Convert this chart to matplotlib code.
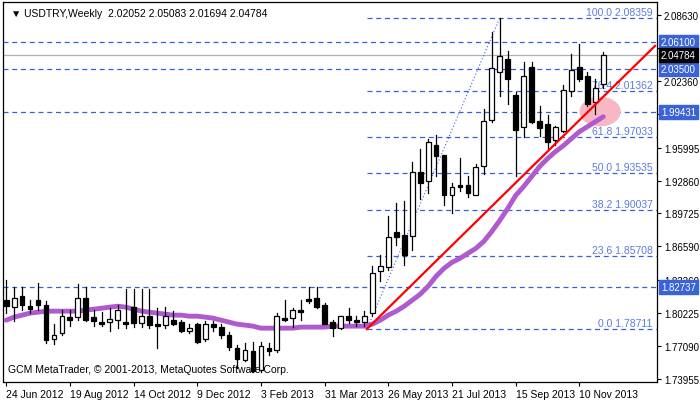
import matplotlib
matplotlib.use("Agg")
import matplotlib.pyplot as plt
from matplotlib.patches import Rectangle, Ellipse

plt.rcParams['font.family'] = ['Liberation Sans', 'DejaVu Sans']

opens = [1.8146,1.8080,1.8184,1.8089,1.8146,1.8099,1.7776,1.7833,1.7985,1.7985,1.8165,1.7985,1.7937,1.7937,1.7956,1.7937,1.8080,1.7928,1.7994,1.7918,
         1.7909,1.7956,1.7937,1.7852,1.7918,1.7776,1.7918,1.7890,1.7814,1.7690,1.7576,1.7662,1.7481,1.7690,1.7671,1.7975,1.7975,1.8051,1.8155,1.8165,
         1.8099,1.7937,1.7880,1.7994,1.7956,1.7937,1.8023,1.8422,1.8460,1.8792,1.8764,1.8754,1.9372,1.9286,1.9628,1.9533,1.9153,1.9248,1.9248,1.9153,
         1.9429,1.9866,2.0322,2.0445,2.0103,1.9799,2.0369,1.9856,1.9828,1.9676,1.9761,2.0141,2.0369,2.0284,2.0037,2.02052]
highs = [1.8336,1.8270,1.8270,1.8146,1.8308,1.8137,1.7918,1.8051,1.8051,1.8298,1.8270,1.8051,1.8032,1.8070,1.8099,1.8251,1.8251,1.8251,1.8251,1.8070,
         1.8080,1.8042,1.7956,1.7918,1.7928,1.7947,1.7947,1.7918,1.7842,1.7719,1.7738,1.7747,1.7747,1.7738,1.8023,1.8146,1.8070,1.8146,1.8270,1.8270,
         1.8118,1.7956,1.7994,1.8070,1.7994,1.8042,1.8469,1.8574,1.8944,1.9068,1.9087,1.9467,1.9590,1.9685,1.9723,1.9533,1.9267,1.9505,1.9334,1.9448,
         1.9970,2.0702,2.08359,2.0521,2.0132,2.0417,2.0417,1.9999,1.9913,1.9809,2.0198,2.0493,2.0588,2.0321,2.0255,2.05083]
lows = [1.8023,1.7947,1.8051,1.8023,1.8051,1.7738,1.7728,1.7814,1.7899,1.7956,1.7947,1.7899,1.7899,1.7852,1.7880,1.7880,1.7890,1.7890,1.7880,1.7690,
        1.7880,1.7909,1.7842,1.7833,1.7738,1.7757,1.7852,1.7785,1.7671,1.7500,1.7567,1.7462,1.7462,1.7624,1.7652,1.7947,1.7890,1.7956,1.8118,1.8070,
        1.7918,1.7804,1.7870,1.7928,1.7899,1.7899,1.7994,1.8327,1.8431,1.8669,1.8479,1.8621,1.9115,1.9163,1.9334,1.9049,1.8973,1.9191,1.9134,1.9144,
        1.9353,1.9847,2.0094,2.0018,1.9334,1.9704,1.9837,1.9714,1.9590,1.9628,1.9752,2.0094,2.0236,1.9999,1.9923,2.01694]
closes = [1.8089,1.8165,1.8099,1.8061,1.8099,1.7766,1.7814,1.7994,1.7956,1.8165,1.7956,1.7947,1.7918,1.7966,1.8051,1.7918,1.7928,1.7994,1.7909,1.7899,
          1.7994,1.7918,1.7852,1.7880,1.7747,1.7918,1.7890,1.7814,1.7700,1.7586,1.7671,1.7472,1.7709,1.7662,1.7994,1.7956,1.8051,1.8032,1.8137,1.8080,
          1.7918,1.7880,1.7994,1.7956,1.7937,1.7994,1.8403,1.8469,1.8745,1.8745,1.8574,1.9372,1.9258,1.9657,1.9524,1.9153,1.9229,1.9229,1.9172,1.9419,
          1.9856,2.0360,2.0474,2.0255,1.9771,2.0284,1.9847,1.9790,1.9657,1.9799,2.0150,2.0341,2.0255,2.0018,2.0170,2.04784]
ma = [1.7956,1.7985,1.8004,1.8023,1.8032,1.8042,1.8042,1.8042,1.8042,1.8042,1.8051,1.8061,1.8070,1.8080,1.8089,1.8080,1.8061,1.8042,1.8032,1.8023,
      1.8013,1.8004,1.8004,1.7994,1.7994,1.7985,1.7975,1.7956,1.7937,1.7918,1.7909,1.7899,1.7880,1.7880,1.7880,1.7880,1.7880,1.7890,1.7890,1.7890,
      1.7890,1.7899,1.7899,1.7899,1.7899,1.7899,1.7918,1.7956,1.8004,1.8042,1.8089,1.8146,1.8203,1.8279,1.8374,1.8450,1.8507,1.8545,1.8593,1.8640,
      1.8707,1.8801,1.8906,1.9020,1.9144,1.9229,1.9324,1.9419,1.9495,1.9562,1.9619,1.9685,1.9752,1.9799,1.9847,1.9894]
date_labels = ["24 Jun 2012","19 Aug 2012","14 Oct 2012","9 Dec 2012","3 Feb 2013","31 Mar 2013","26 May 2013","21 Jul 2013","15 Sep 2013","10 Nov 2013"]
yticks = [2.08630,2.05495,2.02360,1.99225,1.95995,1.92860,1.89725,1.86590,1.83360,1.80225,1.77090,1.73955]
fib_pct = [100.0, 76.4, 61.8, 50.0, 38.2, 23.6, 0.0]
fib_low, fib_high = 1.78711, 2.08359
fib_start, fib_end = 45.3, 62
levels = [2.06100, 2.03500, 1.99431, 1.82737]
current = 2.04784
trend_start, trend_end = (45.3, 1.78711), (81.5, 2.0569)

fig = plt.figure(figsize=(7, 4.02), dpi=100)
ax = fig.add_axes([3/700, 19/402, 654/700, 380/402])
ax.set_xlim(-0.4, 81.75)
ax.set_ylim(1.7367, 2.0987)

blue = "#3a5fd9"
for lv in levels:
    ax.axhline(lv, color=blue, ls=(0, (4, 3)), lw=0.9, zorder=1)
ax.axhline(current, color="#b0b0b0", lw=0.9, zorder=1)
for p in fib_pct:
    v = fib_low + (fib_high - fib_low) * p / 100
    ax.plot([fib_start, 81.75], [v, v], color=blue, ls=(0, (4, 3)), lw=0.9, zorder=1)
    ax.text(81.2, v + 0.001, f"{p:.1f} {v:.5f}", color="#5b7be0", fontsize=7.5, ha="right", va="bottom", zorder=2)
ax.plot([fib_start, fib_end], [fib_low, fib_high], color=blue, ls=(0, (1, 2)), lw=0.8, zorder=1)

ax.add_patch(Ellipse((74.6, 1.9943), 5.0, 0.027, color="#f7b8c4", zorder=2))
ax.plot(range(len(ma)), ma, color="#b05ad0", lw=3.5, solid_capstyle="round", zorder=3)
ax.plot([trend_start[0], trend_end[0]], [trend_start[1], trend_end[1]], color="#ff0000", lw=1.6, zorder=5)

w = 0.6
for i, (o, h, l, c) in enumerate(zip(opens, highs, lows, closes)):
    ax.plot([i, i], [l, h], color="black", lw=0.9, zorder=4)
    bot, top = min(o, c), max(o, c)
    fc = "white" if c >= o else "black"
    ax.add_patch(Rectangle((i - w/2, bot), w, max(top - bot, 0.0006), facecolor=fc, edgecolor="black", lw=0.9, zorder=4))

ax.set_xticks(range(0, 80, 8))
ax.set_xticklabels(date_labels, fontsize=7.5, ha="left")
ax.yaxis.tick_right()
ax.set_yticks(yticks)
ax.set_yticklabels([f"{t:.5f}" for t in yticks], fontsize=7)
ax.tick_params(length=3, width=0.8, pad=2)
for s in ax.spines.values():
    s.set_linewidth(0.9)

def box(val, bg):
    ax.text(1.006, val, f"{val:.5f}", transform=ax.get_yaxis_transform(), fontsize=7, color="white",
            va="center", ha="left", bbox=dict(boxstyle="square,pad=0.2", fc=bg, ec=bg), zorder=10, clip_on=False)
for lv in levels:
    box(lv, "#3a63d8")
box(current, "black")

ax.text(0.012, 0.985, "\u25BC USDTRY,Weekly  2.02052 2.05083 2.01694 2.04784", transform=ax.transAxes, fontsize=7.5, va="top")
ax.text(0.008, 0.02, "GCM MetaTrader, \u00a9 2001-2013, MetaQuotes Software Corp.", transform=ax.transAxes, fontsize=7.5, va="bottom")

fig.savefig("out.png", dpi=100)
